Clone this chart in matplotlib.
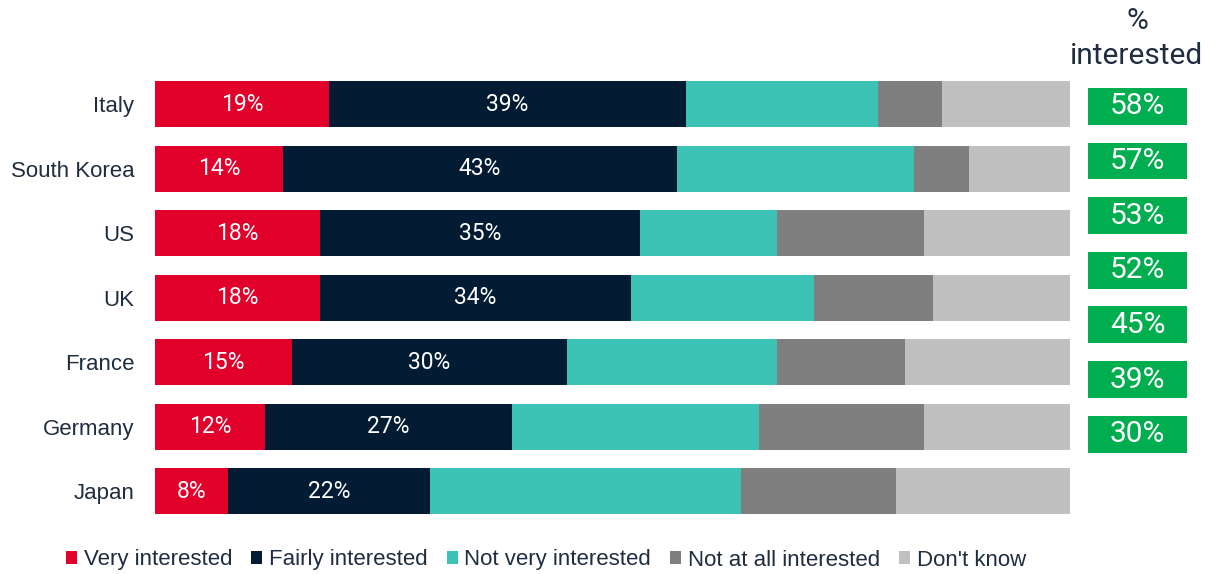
import matplotlib
matplotlib.use("Agg")
import matplotlib.pyplot as plt
from matplotlib.patches import Patch
import numpy as np

# Survey data: share of respondents per answer, by country
countries = ["Italy", "South Korea", "US", "UK", "France", "Germany", "Japan"]
very_interested = [19, 14, 18, 18, 15, 12, 8]
fairly_interested = [39, 43, 35, 34, 30, 27, 22]
not_very_interested = [21, 26, 15, 20, 23, 27, 34]
not_at_all_interested = [7, 6, 16, 13, 14, 18, 17]
dont_know = [14, 11, 16, 15, 18, 16, 19]
pct_interested = [58, 57, 53, 52, 45, 39, 30]

series_names = ["Very interested", "Fairly interested", "Not very interested",
                "Not at all interested", "Don't know"]
series_values = [very_interested, fairly_interested, not_very_interested,
                 not_at_all_interested, dont_know]
colors = ["#E1002A", "#041C33", "#3CC3B5", "#7F7F7F", "#C0C0C0"]
labelled = [True, True, False, False, False]

TEXT = "#1E2D3F"
W, H = 1215, 574
fig = plt.figure(figsize=(W / 100, H / 100), dpi=100)

# Main stacked-bar axes
y_top, y_bot = 72.0, 523.5
ax = fig.add_axes([155 / W, 1 - y_bot / H, 915 / W, (y_bot - y_top) / H])
y = np.arange(len(countries))
left = np.zeros(len(countries))
for name, vals, col, lab in zip(series_names, series_values, colors, labelled):
    vals = np.array(vals, dtype=float)
    bars = ax.barh(y, vals, left=left, height=0.715, color=col, edgecolor="none")
    if lab:
        for b, v in zip(bars, vals):
            ax.text(b.get_x() + b.get_width() / 2, b.get_y() + b.get_height() / 2,
                    f"{int(v)}%", ha="center", va="center", color="white",
                    fontsize=16.5, family=["Roboto", "DejaVu Sans"])
    left += vals

ax.set_xlim(0, 100)
ax.set_ylim(len(countries) - 0.5, -0.5)
ax.set_yticks(y)
ax.set_yticklabels(countries, fontsize=16, color=TEXT, family=["Liberation Sans", "DejaVu Sans"])
ax.tick_params(axis="y", length=0, pad=15)
ax.set_xticks([])
for s in ax.spines.values():
    s.set_visible(False)

# Right-hand column: "% interested" boxes
b_top, b_bot = 79.0, 461.5
ax2 = fig.add_axes([1088 / W, 1 - b_bot / H, 99 / W, (b_bot - b_top) / H])
yb = np.arange(len(pct_interested))
ax2.barh(yb, [1] * len(pct_interested), height=0.675, color="#00AD4F", edgecolor="none")
for yi, v in zip(yb, pct_interested):
    ax2.text(0.5, yi, f"{v}%", ha="center", va="center", color="white",
             fontsize=21.5, family=["Roboto", "DejaVu Sans"])
ax2.set_xlim(0, 1)
ax2.set_ylim(len(pct_interested) - 0.5, -0.5)
ax2.axis("off")

fig.text(1137 / W, 1 - 21 / H, "%", ha="center", va="center", fontsize=21.5,
         color=TEXT, family=["Roboto", "DejaVu Sans"])
fig.text(1137 / W, 1 - 56 / H, "interested", ha="center", va="center", fontsize=21.5,
         color=TEXT, family=["Roboto", "DejaVu Sans"])

# Legend along the bottom
handles = [Patch(facecolor=c, edgecolor="none") for c in colors]
leg = fig.legend(handles, series_names, loc="center", bbox_to_anchor=(546 / W, 1 - 560 / H),
                 ncol=5, frameon=False, handlelength=0.5, handleheight=0.5,
                 handletextpad=0.3, columnspacing=0.85,
                 prop={"family": ["Liberation Sans", "DejaVu Sans"], "size": 16})
for t in leg.get_texts():
    t.set_color(TEXT)

fig.savefig("out.png", dpi=100, facecolor="white")
